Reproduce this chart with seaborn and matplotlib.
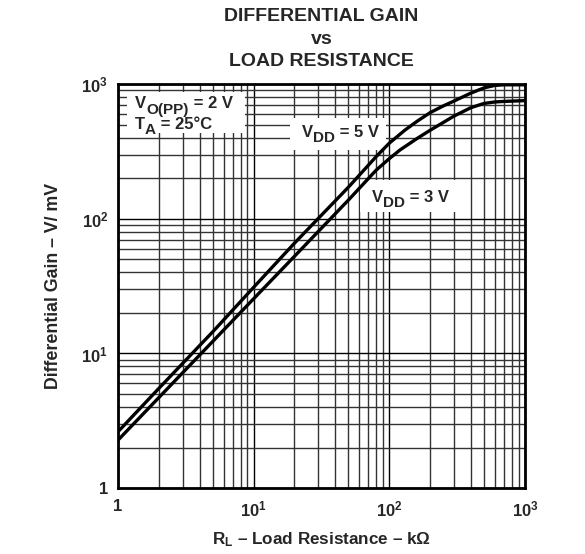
import matplotlib
matplotlib.use("Agg")
import matplotlib.pyplot as plt
import seaborn as sb
import pandas as pd
from matplotlib.patches import Rectangle
from matplotlib.ticker import LogLocator, FixedLocator

# values (R_L in kOhm, gain in V/mV)
rl_5v = [1, 2, 5, 10, 20, 50, 80, 100, 130, 160, 200, 250, 300, 400, 500, 600, 700, 1000]
gain_5v = [2.62, 5.5, 14.5, 31, 66, 172, 290, 365, 455, 530, 615, 690, 750, 860, 940, 980, 990, 990]
rl_3v = [1, 2, 5, 10, 20, 50, 80, 100, 120, 160, 200, 250, 300, 400, 500, 600, 700, 1000]
gain_3v = [2.27, 4.7, 12.3, 25.5, 52.7, 138, 230, 280, 325, 395, 455, 520, 580, 670, 720, 738, 745, 755]

xticks = [1, 10, 100, 1000]
xticklabels = ["1", r"$10^{1}$", r"$10^{2}$", r"$10^{3}$"]

sb.set_style("white")
plt.rcParams["font.family"] = ["Liberation Sans", "DejaVu Sans"]
plt.rcParams["font.weight"] = "bold"
plt.rcParams["mathtext.fontset"] = "custom"
plt.rcParams["mathtext.rm"] = "Liberation Sans:bold"
plt.rcParams["mathtext.it"] = "Liberation Sans:bold"
plt.rcParams["mathtext.bf"] = "Liberation Sans:bold"
plt.rcParams["mathtext.default"] = "rm"


def rich_text(ax, x, y, pieces):
    # pieces: (text, fontsize, baseline shift in points), drawn one after another
    s, fs, sh = pieces[0]
    prev = ax.text(x, y, s, transform=ax.transAxes, fontsize=fs, fontweight="bold",
                   va="baseline", ha="left", zorder=6)
    prev_sh = sh
    for s, fs, sh in pieces[1:]:
        prev = ax.annotate(s, xy=(1, 0), xycoords=prev, xytext=(0, sh - prev_sh),
                           textcoords="offset points", fontsize=fs, fontweight="bold",
                           va="bottom", ha="left", zorder=6)
        prev_sh = sh


df = pd.concat([
    pd.DataFrame({"RL": rl_5v, "gain": gain_5v, "vdd": "5 V"}),
    pd.DataFrame({"RL": rl_3v, "gain": gain_3v, "vdd": "3 V"}),
])

fig = plt.figure(figsize=(5.85, 5.54), dpi=100)
ax = fig.add_axes([0.2017, 0.119, 0.6957, 0.729])

sb.lineplot(data=df, x="RL", y="gain", units="vdd", estimator=None,
            color="black", lw=2.4, ax=ax, legend=False, zorder=5.5)

ax.set_xscale("log")
ax.set_yscale("log")
ax.set_xlim(1, 1000)
ax.set_ylim(1, 1000)

ax.xaxis.set_major_locator(FixedLocator(xticks))
ax.yaxis.set_major_locator(FixedLocator(xticks))
ax.set_xticklabels(xticklabels)
ax.set_yticklabels(xticklabels)
ax.xaxis.set_minor_locator(LogLocator(base=10, subs=range(2, 10)))
ax.yaxis.set_minor_locator(LogLocator(base=10, subs=range(2, 10)))
ax.tick_params(which="both", length=0, labelsize=12, pad=8)
ax.tick_params(axis="y", pad=7)

ax.grid(which="major", color="black", lw=1.0, zorder=1)
ax.grid(which="minor", color="#333333", lw=1.0, zorder=1)
for s in ax.spines.values():
    s.set_color("black")
    s.set_linewidth(2)

ax.set_xlabel(r"R$_{\rm L}$ – Load Resistance – kΩ", fontsize=12.3, fontweight="bold", labelpad=8)
ax.set_ylabel("Differential Gain – V/ mV", fontsize=12.8, fontweight="bold", labelpad=14)

fig.text(0.5495, 0.985, "DIFFERENTIAL GAIN\nvs\nLOAD RESISTANCE", ha="center", va="top",
         fontsize=14, fontweight="bold", linespacing=1.43)

# white label boxes
for x0, y0, w, h in [(0.022, 0.879, 0.29, 0.101), (0.423, 0.837, 0.236, 0.079),
                     (0.595, 0.683, 0.246, 0.079)]:
    ax.add_patch(Rectangle((x0, y0), w, h, transform=ax.transAxes, facecolor="white",
                           edgecolor="none", zorder=5))

rich_text(ax, 0.042, 0.940, [("V", 12, 0), ("O(PP)", 11, -4), (" = 2 V", 12, 0)])
rich_text(ax, 0.042, 0.890, [("T", 12, 0), ("A", 11, -4), (" = 25°C", 12, 0)])
rich_text(ax, 0.452, 0.870, [("V", 12, 0), ("DD", 11, -3.5), (" = 5 V", 12, 0)])
rich_text(ax, 0.624, 0.709, [("V", 12, 0), ("DD", 11, -3.5), (" = 3 V", 12, 0)])

fig.savefig("out.png", dpi=100)
